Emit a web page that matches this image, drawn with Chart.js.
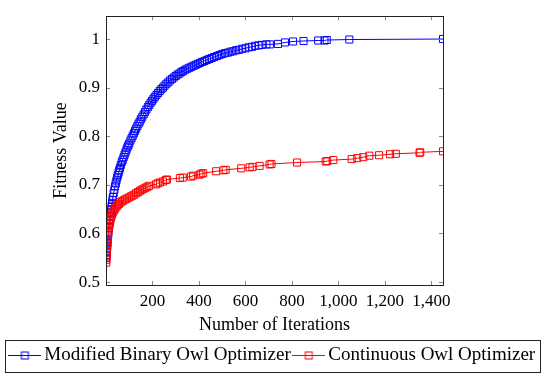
<!DOCTYPE html>
<html>
<head>
<meta charset="utf-8">
<script src="https://cdn.jsdelivr.net/npm/chart.js@4.4.0/dist/chart.umd.min.js"></script>
<style>
  html, body { margin: 0; padding: 0; background: #fff; }
</style>
</head>
<body>
<canvas id="fitness-chart" width="550" height="377"></canvas>
<script>
// values
const seriesNames = ['Modified Binary Owl Optimizer', 'Continuous Owl Optimizer'];

const binaryIter = [1, 2, 3, 4, 5, 6, 7, 8, 9, 10, 12, 14, 16, 18, 20, 22, 24, 26, 28, 30,
    33, 36, 39, 42, 45, 48, 51, 54, 57, 60, 64, 68, 72, 76, 80, 84, 88, 92, 96, 100,
    105, 110, 115, 120, 125, 130, 135, 140, 145, 150, 156, 162, 168, 174, 180, 186, 192, 198,
    204, 210, 217, 224, 231, 238, 245, 252, 260, 268, 276, 284, 292, 300, 308, 316, 324, 332,
    341, 350, 359, 368, 377, 386, 395, 404, 414, 424, 434, 444, 455, 466, 477, 488, 500, 512,
    524, 536, 548, 560, 573, 586, 600, 614, 628, 642, 656, 670, 690, 705, 740, 770, 805, 850,
    913, 940, 950, 1047, 1450];
const binaryFitness = [0.550, 0.556, 0.562, 0.568, 0.574, 0.580, 0.586, 0.592, 0.597, 0.602,
    0.611, 0.620, 0.628, 0.636, 0.643, 0.650, 0.657, 0.663, 0.669, 0.675,
    0.683, 0.690, 0.697, 0.703, 0.709, 0.715, 0.720, 0.725, 0.730, 0.735,
    0.741, 0.747, 0.752, 0.757, 0.762, 0.767, 0.772, 0.777, 0.781, 0.785,
    0.791, 0.796, 0.801, 0.806, 0.811, 0.816, 0.821, 0.826, 0.830, 0.835,
    0.840, 0.845, 0.850, 0.855, 0.860, 0.864, 0.869, 0.873,
    0.877, 0.881, 0.885, 0.889, 0.893, 0.897, 0.900, 0.904, 0.908, 0.911, 0.915, 0.918,
    0.921, 0.924, 0.927, 0.929, 0.932, 0.934,
    0.937, 0.939, 0.941, 0.943, 0.945, 0.947, 0.949, 0.951, 0.953, 0.955, 0.957, 0.959,
    0.961, 0.963, 0.965, 0.967, 0.969, 0.971,
    0.972, 0.974, 0.975, 0.977, 0.978, 0.980, 0.981, 0.983, 0.984, 0.986, 0.987, 0.988,
    0.989, 0.989, 0.990, 0.993, 0.995, 0.996,
    0.997, 0.997, 0.998, 0.999, 1.000];

const continuousIter = [1, 2, 3, 4, 5, 6, 7, 8, 9, 10, 12, 14, 16, 18, 20, 23, 26, 29, 33, 37,
    41, 46, 51, 56, 62, 68, 75, 82, 90, 98, 106, 114, 122, 130, 138, 146, 154, 162, 170, 178,
    186, 215, 222, 232, 245, 257, 262, 318, 330, 366, 375, 402, 410, 418, 474, 505, 515, 582,
    618, 630, 661, 704, 712, 822, 945, 952, 978, 1057, 1081, 1107, 1133, 1175, 1222, 1247,
    1349, 1352, 1450];
const continuousFitness = [0.540, 0.546, 0.553, 0.561, 0.570, 0.578, 0.585, 0.592, 0.598, 0.603,
    0.610, 0.616, 0.621, 0.626, 0.630, 0.635, 0.639, 0.643, 0.647, 0.650,
    0.653, 0.656, 0.659, 0.661, 0.664, 0.666, 0.668, 0.670, 0.672, 0.674,
    0.676, 0.678, 0.680, 0.683, 0.685, 0.688, 0.690, 0.692, 0.694, 0.696,
    0.698, 0.701, 0.703, 0.705, 0.707, 0.710, 0.711, 0.714, 0.715, 0.717, 0.719, 0.721,
    0.723, 0.724, 0.728, 0.730, 0.731, 0.734,
    0.736, 0.737, 0.739, 0.742, 0.743, 0.746, 0.748, 0.749, 0.751, 0.753, 0.755, 0.757,
    0.760, 0.761, 0.763, 0.764,
    0.766, 0.767, 0.769];

const xTicks = [200, 400, 600, 800, 1000, 1200, 1400];
const yTicks = [0.5, 0.6, 0.7, 0.8, 0.9, 1];

function toPoints(xs, ys) {
    return xs.map((x, i) => ({ x: x, y: ys[i] }));
}

// little "-[]-" image for the legend, like the pgfplots legend entry
function legendIcon(color) {
    const c = document.createElement('canvas');
    c.width = 33;
    c.height = 11;
    const g = c.getContext('2d');
    g.strokeStyle = color;
    g.lineWidth = 1;
    g.beginPath();
    g.moveTo(0, 5.5);
    g.lineTo(33, 5.5);
    g.stroke();
    g.strokeRect(13, 2, 7, 7);
    return c;
}

// box around the plot, inward ticks on all four sides, frame around the legend
const framePlugin = {
    id: 'frame',
    afterDatasetsDraw(chart) {
        const { ctx, chartArea: a, scales } = chart;
        ctx.save();
        ctx.strokeStyle = '#888';
        ctx.lineWidth = 1;
        ctx.beginPath();
        xTicks.forEach(v => {
            const px = Math.round(scales.x.getPixelForValue(v)) + 0.5;
            ctx.moveTo(px, a.bottom); ctx.lineTo(px, a.bottom - 4);
            ctx.moveTo(px, a.top); ctx.lineTo(px, a.top + 4);
        });
        yTicks.forEach(v => {
            const py = Math.round(scales.y.getPixelForValue(v)) + 0.5;
            ctx.moveTo(a.left, py); ctx.lineTo(a.left + 4, py);
            ctx.moveTo(a.right, py); ctx.lineTo(a.right - 4, py);
        });
        ctx.stroke();
        ctx.strokeStyle = '#222';
        ctx.strokeRect(Math.round(a.left) + 0.5, Math.round(a.top) + 0.5,
            Math.round(a.right - a.left), Math.round(a.bottom - a.top));
        ctx.restore();
    },
    afterDraw(chart) {
        const boxes = chart.legend.legendHitBoxes;
        if (!boxes || !boxes.length) return;
        const { ctx } = chart;
        const left = Math.min(...boxes.map(b => b.left)) - 10;
        const right = Math.max(...boxes.map(b => b.left + b.width)) + 5;
        const mid = boxes[0].top + boxes[0].height / 2;
        ctx.save();
        ctx.strokeStyle = '#222';
        ctx.lineWidth = 1;
        ctx.strokeRect(Math.round(left) + 0.5, Math.round(mid - 16) + 0.5,
            Math.round(right - left), 32);
        ctx.restore();
    }
};

Chart.defaults.font.family = "'Liberation Serif', 'Times New Roman', serif";
Chart.defaults.color = '#000';

const icons = [legendIcon('#0000ff'), legendIcon('#ff0000')];

new Chart(document.getElementById('fitness-chart').getContext('2d'), {
    type: 'line',
    data: {
        datasets: [
            {
                label: seriesNames[0],
                data: toPoints(binaryIter, binaryFitness),
                borderColor: '#0000ff',
                backgroundColor: 'rgba(0,0,0,0)',
                pointBorderColor: '#0000ff',
                order: 2
            },
            {
                label: seriesNames[1],
                data: toPoints(continuousIter, continuousFitness),
                borderColor: '#ff0000',
                backgroundColor: 'rgba(0,0,0,0)',
                pointBorderColor: '#ff0000',
                order: 1 // red is drawn over blue
            }
        ]
    },
    options: {
        responsive: false,
        animation: false,
        layout: { padding: { top: 5, left: 0, right: 0, bottom: 2 } },
        elements: {
            line: { borderWidth: 1, tension: 0, fill: false },
            point: { pointStyle: 'rect', radius: 5, borderWidth: 1, hoverRadius: 5 }
        },
        scales: {
            x: {
                type: 'linear',
                min: 0,
                max: 1450,
                grid: { display: false, drawTicks: false },
                border: { display: false },
                ticks: {
                    stepSize: 200,
                    includeBounds: false,
                    autoSkip: false,
                    maxRotation: 0,
                    padding: 6,
                    font: { size: 17 },
                    callback: v => (v === 0 ? '' : v.toLocaleString('en-US'))
                },
                title: {
                    display: true,
                    text: 'Number of Iterations',
                    font: { size: 18 },
                    padding: { top: 0, bottom: 2 }
                },
                afterFit: s => { s.height = 53; }
            },
            y: {
                min: 0.494,
                max: 1.047,
                grid: { display: false, drawTicks: false },
                border: { display: false },
                ticks: {
                    stepSize: 0.1,
                    includeBounds: false,
                    padding: 6,
                    font: { size: 17 },
                    callback: v => String(+v.toFixed(1))
                },
                title: {
                    display: true,
                    text: 'Fitness Value',
                    font: { size: 18 },
                    padding: { top: 50, bottom: 0 }
                },
                afterFit: s => { s.width = 106; }
            },
            // empty axis only to keep the right margin
            yRight: {
                position: 'right',
                display: true,
                grid: { display: false, drawTicks: false },
                border: { display: false },
                ticks: { display: false },
                afterFit: s => { s.width = 107; }
            }
        },
        plugins: {
            legend: {
                position: 'bottom',
                labels: {
                    usePointStyle: true,
                    pointStyleWidth: 20,
                    padding: 8,
                    font: { size: 19 },
                    sort: (a, b) => a.datasetIndex - b.datasetIndex,
                    generateLabels: chart => chart.data.datasets.map((ds, i) => ({
                        text: ds.label,
                        datasetIndex: i,
                        pointStyle: icons[i],
                        fillStyle: 'rgba(0,0,0,0)',
                        strokeStyle: ds.borderColor,
                        lineWidth: 0,
                        fontColor: '#000',
                        hidden: !chart.isDatasetVisible(i)
                    }))
                }
            },
            tooltip: { enabled: false }
        }
    },
    plugins: [framePlugin]
});
</script>
</body>
</html>
